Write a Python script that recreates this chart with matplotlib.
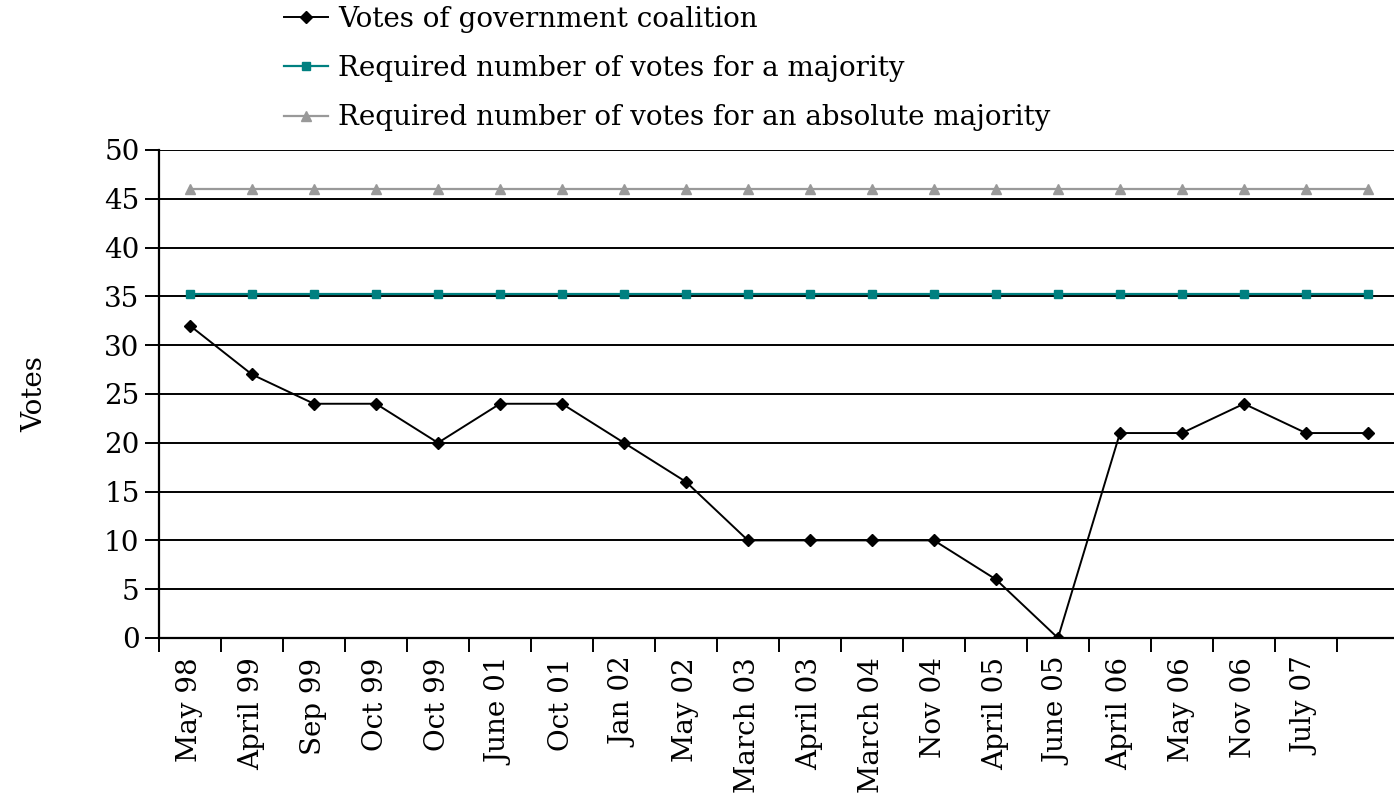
import matplotlib.pyplot as plt
import numpy as np

# data
dates = ['May 98', 'April 99', 'Sep 99', 'Oct 99', 'Oct 99', 'June 01', 'Oct 01',
         'Jan 02', 'May 02', 'March 03', 'April 03', 'March 04', 'Nov 04',
         'April 05', 'June 05', 'April 06', 'May 06', 'Nov 06', 'July 07', '']
coalition = [32, 27, 24, 24, 20, 24, 24, 20, 16, 10, 10, 10, 10, 6, 0, 21, 21, 24, 21, 21]
majority = [35.2] * len(dates)
absolute_majority = [46] * len(dates)

plt.rcParams['font.family'] = ['DejaVu Serif']
fs = 20

fig = plt.figure(figsize=(13.94, 7.99), dpi=100)
W, H = 1394, 799
ax = fig.add_axes([159 / W, 1 - 638 / H, (1394 - 159) / W, (638 - 150) / H])

x = np.arange(len(dates))
ax.plot(x, absolute_majority, color='#999999', marker='^', markersize=7, lw=1.6,
        label='Required number of votes for an absolute majority', zorder=3)
ax.plot(x, majority, color='#008080', marker='s', markersize=6, lw=1.6,
        label='Required number of votes for a majority', zorder=3)
ax.plot(x, coalition, color='black', marker='D', markersize=6, lw=1.4,
        label='Votes of government coalition', zorder=4)

ax.set_xlim(-0.5, 19.42)
ax.set_ylim(0, 50)
ax.set_yticks(np.arange(0, 51, 5))
ax.yaxis.grid(True, color='black', lw=1.4)
ax.set_axisbelow(True)
ax.tick_params(axis='y', labelsize=fs, length=10, width=1.4, pad=4)

ax.set_xticks(x)
ax.set_xticklabels(dates, rotation=90, fontsize=fs)
ax.set_xticks(np.arange(-0.5, 19.5, 1), minor=True)
ax.tick_params(axis='x', which='major', length=0, pad=14)
ax.tick_params(axis='x', which='minor', length=10, width=1.4)

for s in ['top', 'right']:
    ax.spines[s].set_visible(False)
for s in ['left', 'bottom']:
    ax.spines[s].set_linewidth(1.6)

ax.set_ylabel('Votes', fontsize=fs, labelpad=40)

handles, labels = ax.get_legend_handles_labels()
fig.legend(handles[::-1], labels[::-1], loc='upper left',
           bbox_to_anchor=(259 / W, 1.024), frameon=False, fontsize=fs,
           handlelength=1.6, handletextpad=0.35, labelspacing=0.8)

fig.savefig('out.png', dpi=100)
